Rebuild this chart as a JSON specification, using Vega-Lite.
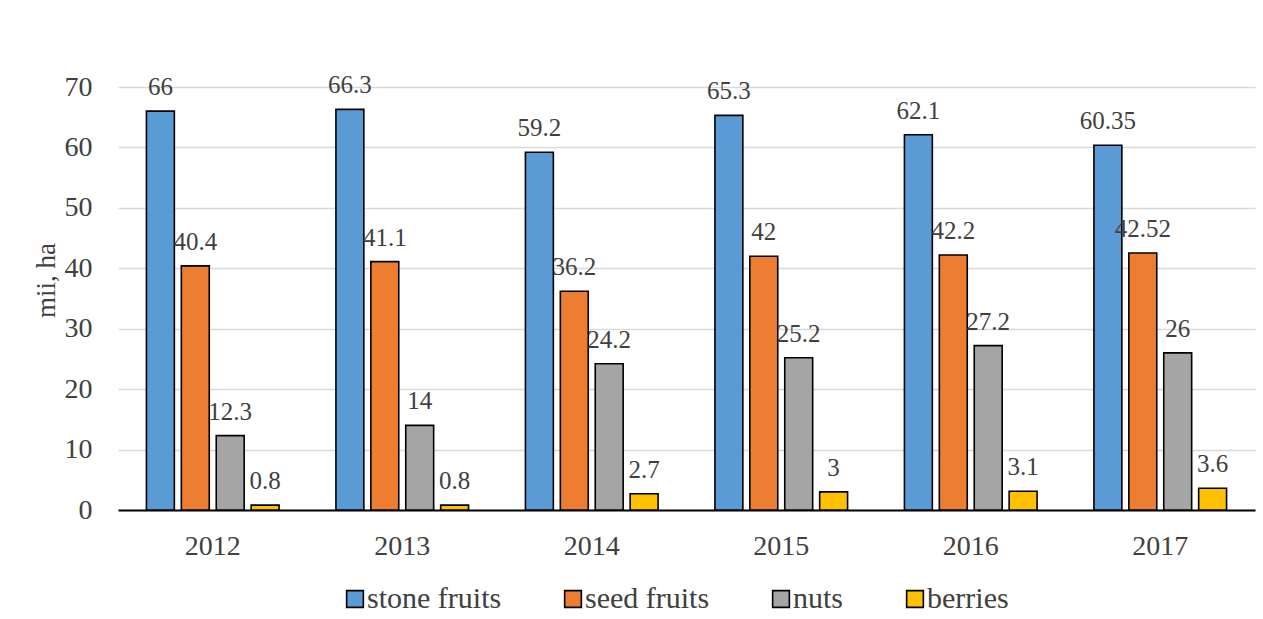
{
  "$schema": "https://vega.github.io/schema/vega-lite/v6.json",
  "autosize": {"type": "none"},
  "padding": {"left": 118, "top": 87, "right": 8, "bottom": 109},
  "width": 1137,
  "height": 423,
  "background": "white",
  "data": {
    "values": [
      {"year": "2012", "crop": "stone fruits", "value": 66},
      {"year": "2012", "crop": "seed fruits", "value": 40.4},
      {"year": "2012", "crop": "nuts", "value": 12.3},
      {"year": "2012", "crop": "berries", "value": 0.8},
      {"year": "2013", "crop": "stone fruits", "value": 66.3},
      {"year": "2013", "crop": "seed fruits", "value": 41.1},
      {"year": "2013", "crop": "nuts", "value": 14},
      {"year": "2013", "crop": "berries", "value": 0.8},
      {"year": "2014", "crop": "stone fruits", "value": 59.2},
      {"year": "2014", "crop": "seed fruits", "value": 36.2},
      {"year": "2014", "crop": "nuts", "value": 24.2},
      {"year": "2014", "crop": "berries", "value": 2.7},
      {"year": "2015", "crop": "stone fruits", "value": 65.3},
      {"year": "2015", "crop": "seed fruits", "value": 42},
      {"year": "2015", "crop": "nuts", "value": 25.2},
      {"year": "2015", "crop": "berries", "value": 3},
      {"year": "2016", "crop": "stone fruits", "value": 62.1},
      {"year": "2016", "crop": "seed fruits", "value": 42.2},
      {"year": "2016", "crop": "nuts", "value": 27.2},
      {"year": "2016", "crop": "berries", "value": 3.1},
      {"year": "2017", "crop": "stone fruits", "value": 60.35},
      {"year": "2017", "crop": "seed fruits", "value": 42.52},
      {"year": "2017", "crop": "nuts", "value": 26},
      {"year": "2017", "crop": "berries", "value": 3.6}
    ]
  },
  "encoding": {
    "x": {
      "field": "year",
      "type": "nominal",
      "scale": {"paddingInner": 0.3, "paddingOuter": 0.15},
      "axis": {
        "title": null,
        "labelAngle": 0,
        "ticks": false,
        "grid": false,
        "domain": true,
        "domainColor": "#000000",
        "domainWidth": 1.8,
        "labelPadding": 22,
        "labelFontSize": 28
      }
    },
    "xOffset": {
      "field": "crop",
      "type": "nominal",
      "sort": ["stone fruits", "seed fruits", "nuts", "berries"],
      "scale": {"paddingInner": 0.2, "paddingOuter": 0}
    },
    "y": {
      "field": "value",
      "type": "quantitative",
      "scale": {"domain": [0, 70], "nice": false},
      "axis": {
        "title": "mii, ha",
        "values": [0, 10, 20, 30, 40, 50, 60, 70],
        "domain": false,
        "ticks": false,
        "grid": true,
        "gridColor": "#d9d9d9",
        "gridWidth": 1.3,
        "labelPadding": 26,
        "labelFontSize": 28,
        "titleFontSize": 27,
        "titleFontWeight": "normal",
        "titlePadding": 4,
        "titleY": 193
      }
    }
  },
  "layer": [
    {
      "mark": {"type": "bar", "stroke": "#000000", "strokeWidth": 1.6},
      "encoding": {
        "color": {
          "field": "crop",
          "type": "nominal",
          "sort": ["stone fruits", "seed fruits", "nuts", "berries"],
          "scale": {
            "domain": ["stone fruits", "seed fruits", "nuts", "berries"],
            "range": ["#5B9BD5", "#ED7D31", "#A5A5A5", "#FFC000"]
          },
          "legend": {
            "title": null,
            "orient": "none",
            "direction": "horizontal",
            "legendX": 222,
            "legendY": 497,
            "symbolType": "square",
            "symbolSize": 280,
            "symbolStrokeColor": "#000000",
            "symbolStrokeWidth": 1.6,
            "labelFont": "Liberation Serif",
            "labelFontSize": 30,
            "labelOffset": -3,
            "columnPadding": 56,
            "labelLimit": 300
          }
        }
      }
    },
    {
      "mark": {
        "type": "text",
        "align": "center",
        "baseline": "alphabetic",
        "dy": -16,
        "font": "Liberation Serif",
        "fontSize": 25,
        "color": "#404040"
      },
      "encoding": {
        "text": {"field": "value", "type": "nominal"}
      }
    }
  ],
  "config": {
    "font": "Liberation Serif",
    "view": {"stroke": null},
    "axis": {
      "labelFont": "Liberation Serif",
      "titleFont": "Liberation Serif",
      "labelColor": "#404040",
      "titleColor": "#404040"
    },
    "legend": {
      "labelFont": "Liberation Serif",
      "labelColor": "#404040"
    }
  }
}
